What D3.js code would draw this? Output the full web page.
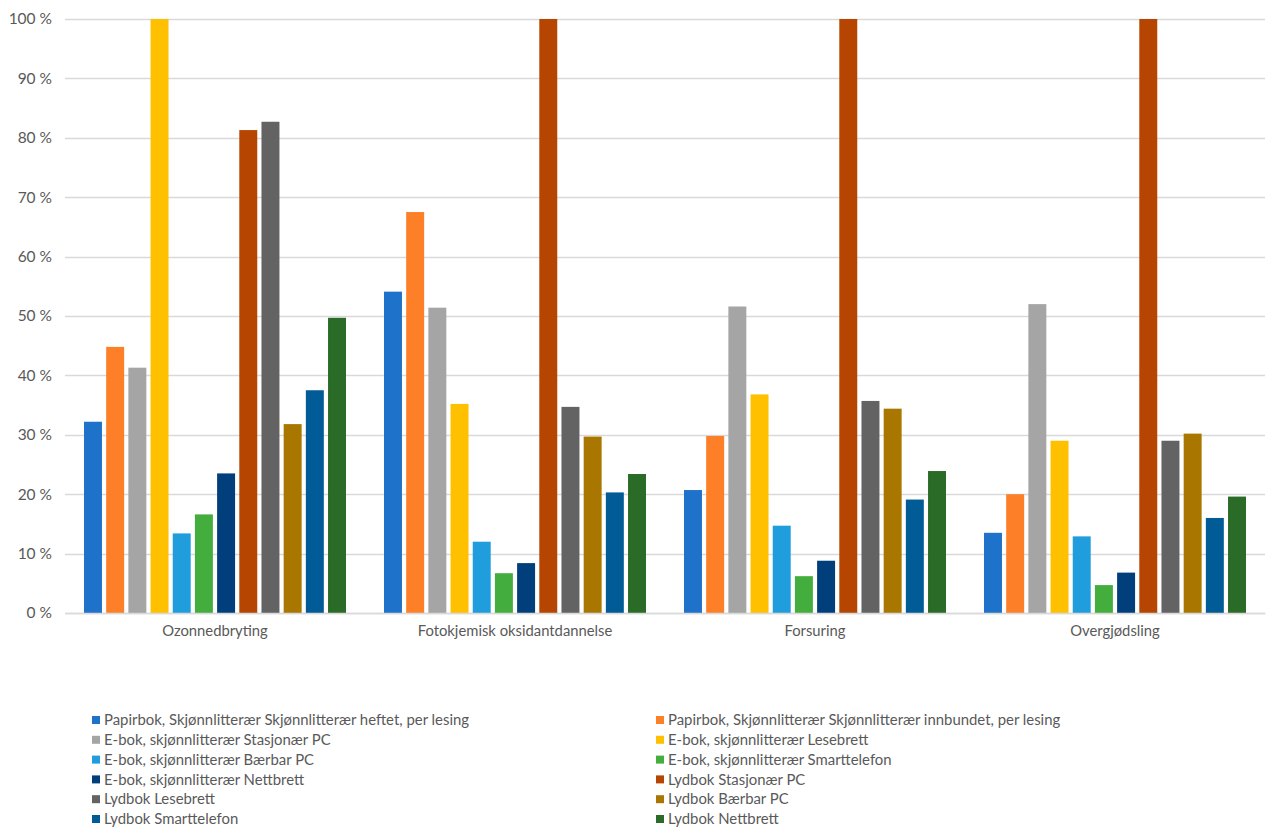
<!DOCTYPE html>
<html><head><meta charset="utf-8">
<script src="https://cdn.jsdelivr.net/npm/d3@7/dist/d3.min.js"></script>
<style>body{margin:0;background:#fff}svg{display:block}</style>
</head><body><svg id="c" width="1285" height="840"></svg>
<script>
const categories = ["Ozonnedbryting", "Fotokjemisk oksidantdannelse", "Forsuring", "Overgjødsling"];
const seriesNames = [
  "Papirbok, Skjønnlitterær Skjønnlitterær heftet, per lesing",
  "Papirbok, Skjønnlitterær Skjønnlitterær innbundet, per lesing",
  "E-bok, skjønnlitterær Stasjonær PC",
  "E-bok, skjønnlitterær Lesebrett",
  "E-bok, skjønnlitterær Bærbar PC",
  "E-bok, skjønnlitterær Smarttelefon",
  "E-bok, skjønnlitterær Nettbrett",
  "Lydbok Stasjonær PC",
  "Lydbok Lesebrett",
  "Lydbok Bærbar PC",
  "Lydbok Smarttelefon",
  "Lydbok Nettbrett"
];
const seriesColors = ["#1f72c9","#fd7f27","#a5a5a5","#ffc000","#209ddc","#43ae3d","#003f7c","#b54500","#636363","#a97700","#005b97","#2a6b27"];
// values per series, one per category (%)
const papirHeftet    = [32.2, 54.1, 20.7, 13.5];
const papirInnbundet = [44.8, 67.5, 29.8, 20.0];
const eStasjonaer    = [41.3, 51.4, 51.6, 52.0];
const eLesebrett     = [100, 35.2, 36.8, 29.0];
const eBaerbar       = [13.4, 12.0, 14.7, 12.9];
const eSmarttelefon  = [16.6, 6.7, 6.2, 4.7];
const eNettbrett     = [23.5, 8.4, 8.8, 6.8];
const lStasjonaer    = [81.3, 100, 100, 100];
const lLesebrett     = [82.7, 34.7, 35.7, 29.0];
const lBaerbar       = [31.8, 29.7, 34.4, 30.2];
const lSmarttelefon  = [37.5, 20.3, 19.1, 16.0];
const lNettbrett     = [49.7, 23.4, 23.9, 19.6];
const yTicks = [0,10,20,30,40,50,60,70,80,90,100];

const seriesValues = [papirHeftet, papirInnbundet, eStasjonaer, eLesebrett, eBaerbar, eSmarttelefon, eNettbrett, lStasjonaer, lLesebrett, lBaerbar, lSmarttelefon, lNettbrett];

const font = "Lato, 'Open Sans', sans-serif";
const svg = d3.select("#c");
const plotL = 65, plotR = 1265, plotT = 19, plotB = 613;

const x0 = d3.scaleBand().domain(categories).range([plotL, plotR]).paddingInner(0).paddingOuter(0);
const x1 = d3.scaleBand().domain(d3.range(seriesNames.length)).range([17, x0.bandwidth() - 17]).paddingInner(0.19).paddingOuter(0.09);
const y = d3.scaleLinear().domain([0, 100]).range([plotB, plotT]);

// gridlines
svg.append("g").selectAll("line").data(yTicks).join("line")
  .attr("x1", plotL).attr("x2", plotR)
  .attr("y1", d => Math.round(y(d)) + 0.5).attr("y2", d => Math.round(y(d)) + 0.5)
  .attr("stroke", "#d9d9d9").attr("stroke-width", 1.3);

// y-axis labels
const yAxis = d3.axisLeft(y).tickValues(yTicks).tickSize(0).tickPadding(0).tickFormat(d => d + " %");
const ya = svg.append("g").attr("transform", `translate(52,0)`).call(yAxis);
ya.select(".domain").remove();
ya.selectAll("text").attr("fill", "#595959").style("font-family", font).style("font-size", "15.5px");

// bars
const groups = svg.append("g").selectAll("g").data(categories).join("g")
  .attr("transform", d => `translate(${x0(d)},0)`);
groups.selectAll("rect").data((c, ci) => seriesValues.map((s, si) => ({si, v: s[ci]}))).join("rect")
  .attr("x", d => x1(d.si)).attr("width", x1.bandwidth())
  .attr("y", d => y(d.v)).attr("height", d => y(0) - y(d.v))
  .attr("fill", d => seriesColors[d.si]);

// x-axis labels
const xAxis = d3.axisBottom(x0).tickSize(0).tickPadding(12);
const xa = svg.append("g").attr("transform", `translate(0,${plotB})`).call(xAxis);
xa.select(".domain").attr("stroke", "#d9d9d9").attr("stroke-width", 1.3);
xa.selectAll("text").attr("fill", "#595959").style("font-family", font).style("font-size", "14.8px");

// legend
const leg = svg.append("g").selectAll("g").data(seriesNames).join("g")
  .attr("transform", (d, i) => `translate(${i % 2 === 0 ? 92 : 656},${720 + Math.floor(i / 2) * 19.8})`);
leg.append("rect").attr("x", 0).attr("y", -4).attr("width", 8).attr("height", 8).attr("fill", (d, i) => seriesColors[i]);
leg.append("text").attr("x", 12).attr("y", 0).attr("dy", "0.35em").text(d => d)
  .attr("fill", "#595959").style("font-family", font).style("font-size", "14.9px");
</script></body></html>
